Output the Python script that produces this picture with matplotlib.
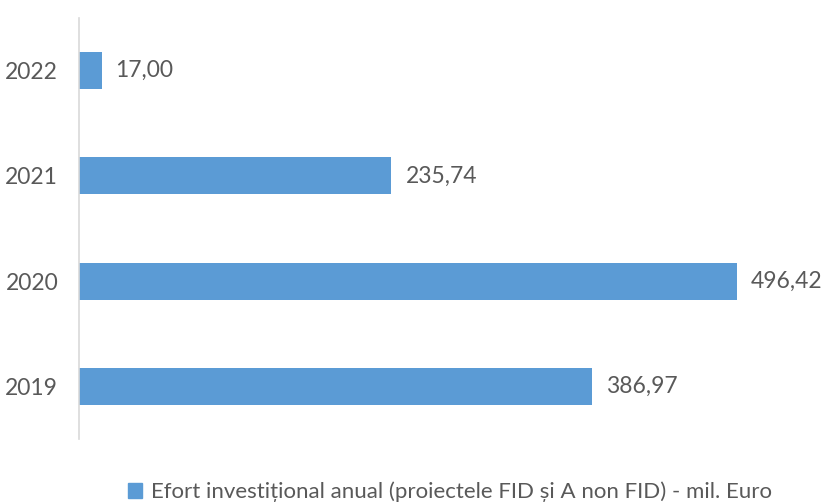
import matplotlib.pyplot as plt
from matplotlib.patches import Patch

years = ["2019", "2020", "2021", "2022"]
values = [386.97, 496.42, 235.74, 17.00]
series_name = "Efort investițional anual (proiectele FID și A non FID) - mil. Euro"

bar_color = "#5B9BD5"
text_color = "#595959"
plt.rcParams['font.family'] = ['Lato', 'DejaVu Sans']

fig = plt.figure(figsize=(8.25, 5.03), dpi=100)
ax = fig.add_axes([79 / 825, 1 - 439 / 503, (815 - 79) / 825, (439 - 18) / 503])

pos = list(range(len(years)))
bars = ax.barh(pos, values, height=0.35, color=bar_color)
for b, v in zip(bars, values):
    ax.annotate(f"{v:.2f}".replace(".", ","), (b.get_width(), b.get_y() + b.get_height() / 2),
                xytext=(14, 0), textcoords="offset pixels",
                va="center", ha="left", fontsize=16.5, color=text_color)

ax.set_yticks(pos)
ax.set_yticklabels(years, fontsize=16.5, color=text_color)
ax.set_ylim(-0.5, 3.5)
ax.set_xlim(0, (815 - 79) / 1.3255)
ax.set_xticks([])
ax.tick_params(axis="y", length=0, pad=15)
for s in ["top", "right", "bottom"]:
    ax.spines[s].set_visible(False)
ax.spines["left"].set_color("#D9D9D9")
ax.spines["left"].set_linewidth(1.2)

fig.legend(handles=[Patch(color=bar_color, label=series_name)], loc="center",
           bbox_to_anchor=(450 / 825, 1 - 492 / 503), frameon=False, fontsize=16,
           labelcolor=text_color, handlelength=0.6, handleheight=0.6, handletextpad=0.4)

fig.savefig("out.png", dpi=100)
